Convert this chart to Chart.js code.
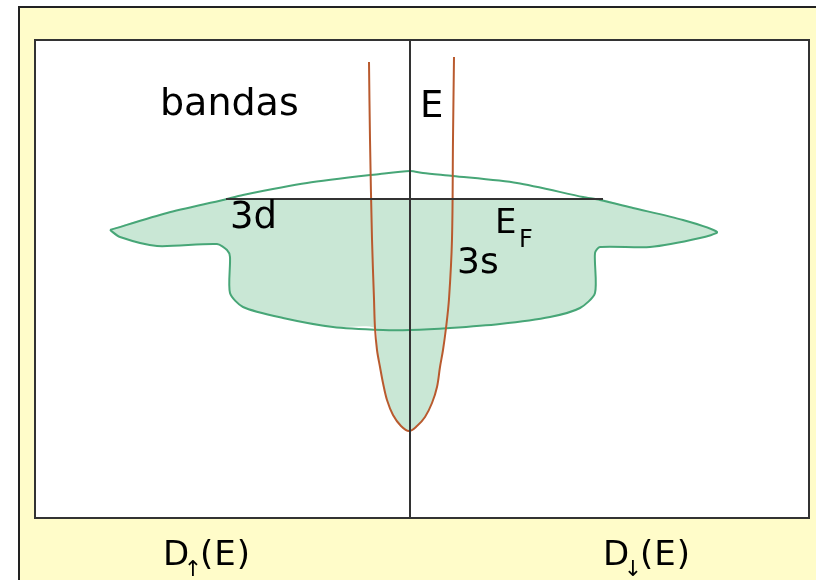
<!DOCTYPE html>
<html>
<head>
<meta charset="utf-8">
<script src="https://cdn.jsdelivr.net/npm/chart.js@4/dist/chart.umd.min.js"></script>
<style>
    html, body { margin: 0; padding: 0; background: #fff; }
</style>
</head>
<body>
<canvas id="dos" width="816" height="580"></canvas>
<script>
// Density of states: D on x (left = spin up, right = spin down), E on y (E_F = 0)
var xMin = -3.75, xMax = 3.99;
var yMin = -3.19, yMax = 1.59;

// 3d band outline (closed loop)
var d3D = [-3.00, -2.43, -1.87, -1.67, -1.03, -0.30, 0, 0.13, 0.43, 1.07, 1.73, 1.90, 2.23, 2.73, 3.07, 2.90, 2.40, 1.90, 1.85, 1.85, 1.70, 1.40, 0.90, 0.40, 0, -0.27, -0.77, -1.27, -1.67, -1.80, -1.80, -1.83, -1.93, -2.53, -2.90, -3.00];
var d3E = [-0.31, -0.14, -0.01, 0.04, 0.16, 0.25, 0.28, 0.26, 0.23, 0.16, 0.02, -0.01, -0.09, -0.21, -0.33, -0.39, -0.48, -0.48, -0.54, -0.94, -1.09, -1.18, -1.25, -1.29, -1.31, -1.31, -1.28, -1.19, -1.08, -0.94, -0.58, -0.51, -0.45, -0.47, -0.38, -0.31];

// 3s band, left branch (top to bottom) and right branch (bottom to top)
var s3LeftD = [-0.41, -0.40, -0.38, -0.36, -0.35, -0.33, -0.30, -0.27, -0.23, -0.17, -0.09, -0.01];
var s3LeftE = [1.37, 0.60, -0.40, -1.00, -1.29, -1.51, -1.68, -1.84, -2.01, -2.16, -2.27, -2.32];
var s3RightD = [0.07, 0.15, 0.22, 0.27, 0.30, 0.33, 0.36, 0.39, 0.42, 0.43, 0.44];
var s3RightE = [-2.27, -2.18, -2.04, -1.88, -1.68, -1.51, -1.29, -1.00, -0.40, 0.60, 1.42];

// Fermi level: drawn extent, and where the occupied 3d states meet it
var efD = [-1.84, 1.93];
var efFillD = [-1.84, -1.0, 0, 1.0, 1.89];

function pts(xs, ys) {
    return xs.map(function (x, i) { return { x: x, y: ys[i] }; });
}

// occupied region: 3d states below E_F plus the 3s well below the 3d band
function occupied() {
    var d3 = pts(d3D, d3E);
    var p = efFillD.map(function (x) { return { x: x, y: 0 }; });
    p = p.concat(d3.slice(12, 24));
    p = p.concat(pts(s3RightD, s3RightE).reverse().filter(function (q) { return q.y <= -1.29; }));
    p = p.concat(pts(s3LeftD, s3LeftE).reverse().filter(function (q) { return q.y <= -1.29; }));
    p = p.concat(d3.slice(26, 36));
    p.push(d3[1]);
    p.push({ x: efFillD[0], y: 0 });
    return p;
}

var notes = [
    { t: 'bandas', x: -2.50, y: 0.84, size: 38 },
    { t: 'E', x: 0.10, y: 0.82, size: 37 },
    { t: '3d', x: -1.80, y: -0.29, size: 37 },
    { t: 'E', x: 0.85, y: -0.34, size: 34 },
    { t: 'F', x: 1.09, y: -0.48, size: 24 },
    { t: '3s', x: 0.47, y: -0.74, size: 36 },
    { t: 'D', x: -2.47, y: -3.66, size: 34 },
    { t: '↑', x: -2.17, y: -3.77, size: 22, align: 'center' },
    { t: '(E)', x: -2.10, y: -3.66, size: 34, sp: '1px' },
    { t: 'D', x: 1.93, y: -3.66, size: 34 },
    { t: '↓', x: 2.23, y: -3.77, size: 22, align: 'center' },
    { t: '(E)', x: 2.30, y: -3.66, size: 34, sp: '1px' }
];

var framePlugin = {
    id: 'frame',
    beforeDraw: function (chart) {
        var ctx = chart.ctx, a = chart.chartArea;
        ctx.save();
        ctx.fillStyle = '#fffcc9';
        ctx.fillRect(19, 7, chart.width, chart.height);
        ctx.fillStyle = '#222';
        ctx.fillRect(19, 6, chart.width, 2);
        ctx.fillRect(18, 6, 2, chart.height);
        ctx.fillStyle = '#fff';
        ctx.fillRect(a.left, a.top, a.right - a.left, a.bottom - a.top);
        ctx.restore();
    },
    afterDraw: function (chart) {
        var ctx = chart.ctx, a = chart.chartArea;
        var sx = chart.scales.x, sy = chart.scales.y;
        ctx.save();
        ctx.strokeStyle = '#333';
        ctx.lineWidth = 2;
        ctx.strokeRect(a.left, a.top, a.right - a.left, a.bottom - a.top);
        ctx.fillStyle = '#000';
        ctx.textBaseline = 'alphabetic';
        notes.forEach(function (n) {
            ctx.font = n.size + 'px "DejaVu Sans"';
            ctx.textAlign = n.align || 'left';
            ctx.letterSpacing = n.sp || '0px';
            ctx.fillText(n.t, sx.getPixelForValue(n.x), sy.getPixelForValue(n.y));
        });
        ctx.restore();
    }
};

var chart = new Chart(document.getElementById('dos').getContext('2d'), {
    type: 'scatter',
    plugins: [framePlugin],
    data: {
        datasets: [{
            // vertical axis
            data: [{ x: 0, y: yMin }, { x: 0, y: yMax }],
            borderColor: '#333',
            borderWidth: 2,
            tension: 0
        }, {
            // Fermi level
            data: [{ x: efD[0], y: 0 }, { x: efD[1], y: 0 }],
            borderColor: '#333',
            borderWidth: 2,
            tension: 0
        }, {
            // 3s band
            data: pts(s3LeftD.concat(s3RightD), s3LeftE.concat(s3RightE)),
            borderColor: '#b95a2e',
            borderWidth: 2,
            tension: 0.35
        }, {
            // 3d band outline
            data: pts(d3D, d3E),
            borderColor: '#47a677',
            borderWidth: 2,
            tension: 0.25
        }, {
            // occupied states
            data: occupied(),
            borderColor: 'rgba(0,0,0,0)',
            borderWidth: 1,
            backgroundColor: '#c9e7d5',
            fill: 'shape',
            tension: 0.25
        }].map(function (d) {
            d.showLine = true;
            d.pointRadius = 0;
            return d;
        })
    },
    options: {
        responsive: false,
        animation: false,
        layout: { padding: { left: 35, right: 7, top: 40, bottom: 62 } },
        plugins: {
            legend: { display: false },
            tooltip: { enabled: false }
        },
        scales: {
            x: { type: 'linear', min: xMin, max: xMax, display: false },
            y: { type: 'linear', min: yMin, max: yMax, display: false }
        }
    }
});
</script>
</body>
</html>
